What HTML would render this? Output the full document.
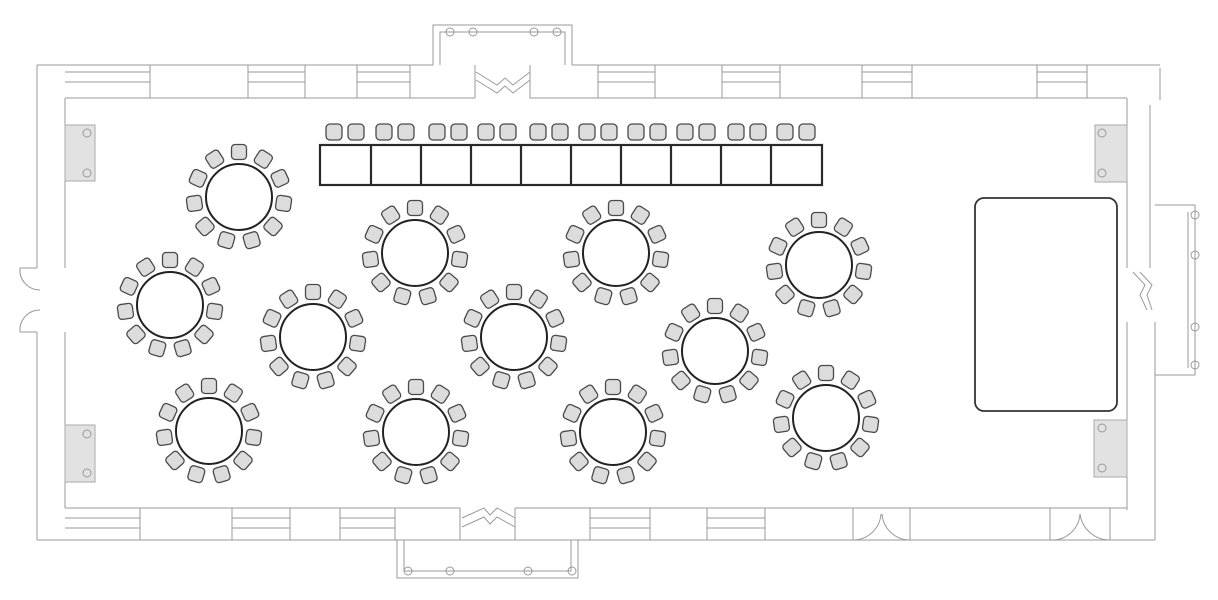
<!DOCTYPE html>
<html><head><style>html,body{margin:0;padding:0;background:#fff;}svg{display:block}</style></head>
<body>
<svg width="1218" height="600" viewBox="0 0 1218 600" xmlns="http://www.w3.org/2000/svg">
<defs>
<rect id="ch" x="-7.5" y="-7.5" width="15" height="15" rx="3.5" fill="#dcdcdc" stroke="#4a4a4a" stroke-width="1.3"/>
<g id="tb">
<circle r="33" fill="#fff" stroke="#222" stroke-width="2"/>
<use href="#ch" transform="rotate(0) translate(0,-45)"/>
<use href="#ch" transform="rotate(32.73) translate(0,-45)"/>
<use href="#ch" transform="rotate(65.45) translate(0,-45)"/>
<use href="#ch" transform="rotate(98.18) translate(0,-45)"/>
<use href="#ch" transform="rotate(130.91) translate(0,-45)"/>
<use href="#ch" transform="rotate(163.64) translate(0,-45)"/>
<use href="#ch" transform="rotate(196.36) translate(0,-45)"/>
<use href="#ch" transform="rotate(229.09) translate(0,-45)"/>
<use href="#ch" transform="rotate(261.82) translate(0,-45)"/>
<use href="#ch" transform="rotate(294.55) translate(0,-45)"/>
<use href="#ch" transform="rotate(327.27) translate(0,-45)"/>
</g>
</defs>

<g fill="none" stroke="#9a9a9a" stroke-width="1">
<!-- left wall -->
<path d="M37 65 V268 M37 332 V540 M65 98 V268 M65 332 V508"/>
<path d="M37 268 H20 A20 20 0 0 0 40 290 M37 332 H20 A20 20 0 0 1 40 310"/>
<!-- top wall -->
<path d="M37 65 H433 M572 65 H1160 M65 98 H475 M530 98 H1127"/>
<path d="M433 65 V25 H572 V65 M440 65 V32 H565 V65 M440 32 H565"/>
<!-- top doors -->
<path d="M476 72 L497 85 L505 78 L513 85 L530 72 M476 80 L497 93 L505 86 L513 93 L530 80"/>
<!-- top windows -->
<path d="M65 72 H150 M65 82 H150 M248 72 H305 M248 82 H305 M357 72 H410 M357 82 H410 M598 72 H655 M598 82 H655 M722 72 H780 M722 82 H780 M862 72 H912 M862 82 H912 M1037 72 H1087 M1037 82 H1087"/>
<path d="M150 65 V98 M248 65 V98 M305 65 V98 M357 65 V98 M410 65 V98 M475 65 V98 M530 65 V98 M598 65 V98 M655 65 V98 M722 65 V98 M780 65 V98 M862 65 V98 M912 65 V98 M1037 65 V98 M1087 65 V98"/>
<!-- right wall -->
<path d="M1127 98 V268 M1127 322 V510 M1160 68 V100 M1150 105 V268 M1155 322 V540"/>
<path d="M1155 205 H1195 V375 H1155 M1188 212 V368"/>
<path d="M1133 272 L1145 285 L1140 295 L1147 310 M1140 272 L1152 285 L1147 295 L1152 310"/>
<!-- bottom wall -->
<path d="M65 508 H460 M515 508 H1127 M37 540 H1155"/>
<path d="M397 540 V578 H578 V540 M404 540 V571 H571 V540 M404 571 H571"/>
<path d="M462 518 L484 508 L490 515 L497 508 L515 518 M462 527 L484 517 L490 524 L497 517 L515 527"/>
<path d="M65 518 H140 M65 528 H140 M232 518 H290 M232 528 H290 M340 518 H395 M340 528 H395 M590 518 H650 M590 528 H650 M707 518 H765 M707 528 H765"/>
<path d="M140 508 V540 M232 508 V540 M290 508 V540 M340 508 V540 M395 508 V540 M460 508 V540 M515 508 V540 M590 508 V540 M650 508 V540 M707 508 V540 M765 508 V540 M853 508 V540 M910 508 V540 M1050 508 V540 M1110 508 V540"/>
<path d="M853 540 A28 28 0 0 0 881 514 M910 540 A28 28 0 0 1 882 514 M1050 540 A28 28 0 0 0 1080 514 M1110 540 A30 30 0 0 1 1080 514"/>
</g>

<!-- heaters -->
<g fill="#e2e2e2" stroke="#aaa" stroke-width="1">
<rect x="65" y="125" width="30" height="56"/><rect x="65" y="425" width="30" height="57"/>
<rect x="1095" y="125" width="32" height="57"/><rect x="1094" y="420" width="33" height="57"/>
</g>
<g fill="none" stroke="#999" stroke-width="1">
<circle cx="87" cy="133" r="4"/><circle cx="87" cy="173" r="4"/>
<circle cx="87" cy="434" r="4"/><circle cx="87" cy="473" r="4"/>
<circle cx="1102" cy="133" r="4"/><circle cx="1102" cy="173" r="4"/>
<circle cx="1102" cy="428" r="4"/><circle cx="1102" cy="468" r="4"/>
<circle cx="450" cy="32" r="4"/><circle cx="473" cy="32" r="4"/><circle cx="534" cy="32" r="4"/><circle cx="557" cy="32" r="4"/>
<circle cx="408" cy="571" r="4"/><circle cx="450" cy="571" r="4"/><circle cx="528" cy="571" r="4"/><circle cx="572" cy="571" r="4"/>
<circle cx="1195" cy="215" r="4"/><circle cx="1195" cy="255" r="4"/><circle cx="1195" cy="327" r="4"/><circle cx="1195" cy="365" r="4"/>
</g>

<!-- stage -->
<rect x="975" y="198" width="142" height="213" rx="9" fill="#fff" stroke="#333" stroke-width="1.8"/>

<!-- head table -->
<g fill="none" stroke="#2a2a2a" stroke-width="2.2">
<rect x="320" y="145" width="502" height="40"/>
<path d="M371 145 V185 M421 145 V185 M471 145 V185 M521 145 V185 M571 145 V185 M621 145 V185 M671 145 V185 M721 145 V185 M771 145 V185"/>
</g>
<g fill="#dcdcdc" stroke="#4a4a4a" stroke-width="1.3">
<rect x="326" y="124" width="16" height="16" rx="4"/><rect x="348" y="124" width="16" height="16" rx="4"/>
<rect x="376" y="124" width="16" height="16" rx="4"/><rect x="398" y="124" width="16" height="16" rx="4"/>
<rect x="429" y="124" width="16" height="16" rx="4"/><rect x="451" y="124" width="16" height="16" rx="4"/>
<rect x="478" y="124" width="16" height="16" rx="4"/><rect x="500" y="124" width="16" height="16" rx="4"/>
<rect x="530" y="124" width="16" height="16" rx="4"/><rect x="552" y="124" width="16" height="16" rx="4"/>
<rect x="579" y="124" width="16" height="16" rx="4"/><rect x="601" y="124" width="16" height="16" rx="4"/>
<rect x="628" y="124" width="16" height="16" rx="4"/><rect x="650" y="124" width="16" height="16" rx="4"/>
<rect x="677" y="124" width="16" height="16" rx="4"/><rect x="699" y="124" width="16" height="16" rx="4"/>
<rect x="728" y="124" width="16" height="16" rx="4"/><rect x="750" y="124" width="16" height="16" rx="4"/>
<rect x="777" y="124" width="16" height="16" rx="4"/><rect x="799" y="124" width="16" height="16" rx="4"/>
</g>

<!-- round tables -->
<use href="#tb" x="239" y="197"/>
<use href="#tb" x="170" y="305"/>
<use href="#tb" x="209" y="431"/>
<use href="#tb" x="415" y="253"/>
<use href="#tb" x="313" y="337"/>
<use href="#tb" x="416" y="432"/>
<use href="#tb" x="616" y="253"/>
<use href="#tb" x="514" y="337"/>
<use href="#tb" x="613" y="432"/>
<use href="#tb" x="819" y="265"/>
<use href="#tb" x="715" y="351"/>
<use href="#tb" x="826" y="418"/>
</svg>
</body></html>
